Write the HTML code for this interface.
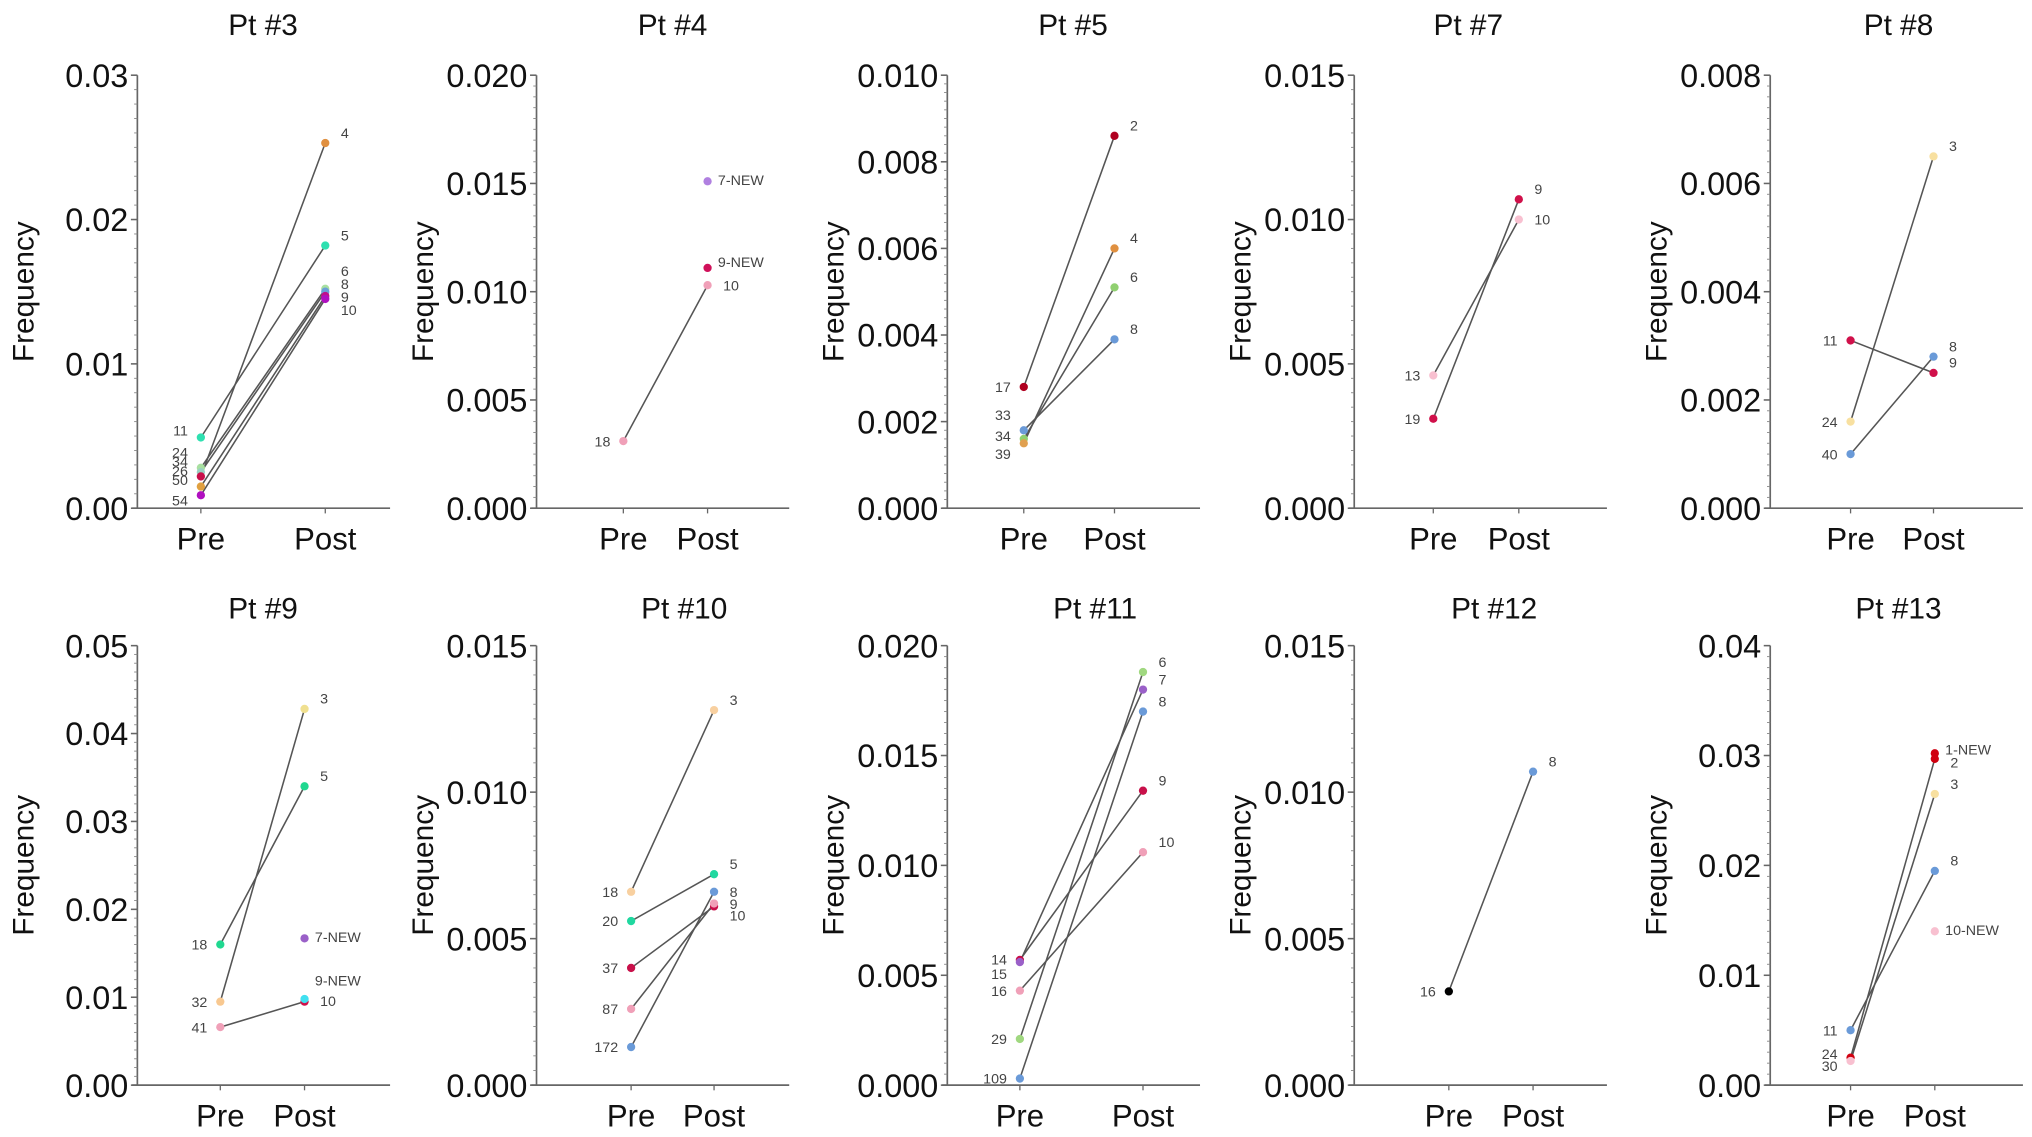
<!DOCTYPE html>
<html><head><meta charset="utf-8"><style>
html,body{margin:0;padding:0;background:#fff;}
svg{display:block;font-family:"Liberation Sans",Arial,sans-serif;}
</style></head><body>
<svg id="chart" width="2032" height="1137" viewBox="0 0 1568 877" preserveAspectRatio="none" xmlns="http://www.w3.org/2000/svg"></svg>
<script>
// panel titles and axes
const titles = ["Pt #3","Pt #4","Pt #5","Pt #7","Pt #8","Pt #9","Pt #10","Pt #11","Pt #12","Pt #13"];
const yMax = [0.03,0.020,0.010,0.015,0.008,0.05,0.015,0.020,0.015,0.04];
const yStep = [0.01,0.005,0.002,0.005,0.002,0.01,0.005,0.005,0.005,0.01];
const yDecimals = [2,3,3,3,3,2,3,3,3,2];
// paired clones: [preLabel, preValue, postLabel, postValue, preColor, postColor]
const p3 = [["11",0.0049,"5",0.0182,"#2ee0b0","#2ee0b0"],["24",0.0028,"6",0.0152,"#a8e0a0","#a8e0a0"],["34",0.0025,"8",0.0150,"#9ad0c0","#6aa0d8"],["26",0.0022,"4",0.0253,"#c8104a","#e09040"],["50",0.0015,"9",0.0147,"#e0a040","#c0108a"],["54",0.0009,"10",0.0145,"#b010c0","#b010c0"]];
const p4 = [["18",0.0031,"10",0.0103,"#f0a0b8","#f0a0b8"]];
const p5 = [["17",0.0028,"2",0.0086,"#b00020","#b00020"],["33",0.0018,"8",0.0039,"#6a9ad8","#6a9ad8"],["34",0.0016,"6",0.0051,"#90d070","#90d070"],["39",0.0015,"4",0.0060,"#e0a050","#e09040"]];
const p7 = [["13",0.0046,"10",0.0100,"#f8c0d0","#f8c0d0"],["19",0.0031,"9",0.0107,"#d0104a","#d0104a"]];
const p8 = [["11",0.0031,"9",0.0025,"#d0104a","#d0104a"],["24",0.0016,"3",0.0065,"#f8e0a0","#f8e0a0"],["40",0.0010,"8",0.0028,"#6a9ad8","#6a9ad8"]];
const p9 = [["18",0.0160,"5",0.0340,"#20d890","#20d890"],["32",0.0095,"3",0.0428,"#f8c890","#f0e090"],["41",0.0066,"10",0.0095,"#f0a0b8","#d0104a"]];
const p10 = [["18",0.0066,"3",0.0128,"#f8d0a0","#f8d0a0"],["20",0.0056,"5",0.0072,"#20d8a0","#20d8a0"],["37",0.0040,"9",0.0061,"#c8104a","#c8104a"],["87",0.0026,"10",0.0062,"#f0a0b8","#f0a0b8"],["172",0.0013,"8",0.0066,"#6a9ad8","#6a9ad8"]];
const p11 = [["14",0.0057,"9",0.0134,"#c8104a","#c8104a"],["15",0.0056,"7",0.0180,"#9a60c8","#9a60c8"],["16",0.0043,"10",0.0106,"#f0a0b8","#f0a0b8"],["29",0.0021,"6",0.0188,"#a0d880","#a0d880"],["109",0.0003,"8",0.0170,"#6a9ad8","#6a9ad8"]];
const p12 = [["16",0.0032,"8",0.0107,"#000000","#6a9ad8"]];
const p13 = [["11",0.0050,"8",0.0195,"#6a9ad8","#6a9ad8"],["24",0.0025,"2",0.0297,"#d00010","#d00010"],["30",0.0022,"3",0.0265,"#f8c0d0","#f8e0a0"]];
// post-only (new) clones: [panelIndex, label, value, color]
const newClones = [[1,"7-NEW",0.0151,"#b080e0"],[1,"9-NEW",0.0111,"#d0105a"],[5,"7-NEW",0.0167,"#9a60c8"],[5,"9-NEW",0.0098,"#40e0f0"],[9,"1-NEW",0.0302,"#d00010"],[9,"10-NEW",0.0140,"#f8c0d0"]];
const pairs = [p3,p4,p5,p7,p8,p9,p10,p11,p12,p13];

// layout (not data)
const axisX = [106,414,731,1045,1366,106,414,731,1045,1366];
const preX = [155,481,790,1106,1428,170,487,787,1118,1428];
const postX = [251,546,860,1172,1492,235,551,882,1183,1493];
const titleX = [203,519,828,1133,1465,203,528,845,1153,1465];
const rowTop = [58,498], rowZero = [392,837];
// manual label baselines to avoid overlaps (layout only)
const labelY = {"0-pre-0":336,"0-pre-1":353,"0-pre-2":360,"0-pre-3":367,"0-pre-4":374,"0-pre-5":390,
 "0-post-1":213,"0-post-2":223,"0-post-4":233,"0-post-5":243,
 "1-post-0":224,"new-1-9-NEW":206,
 "2-pre-1":324,"2-pre-2":340,"2-pre-3":354,
 "6-post-4":692,"6-post-2":701,"6-post-3":710,
 "7-pre-0":744,"7-pre-1":755,
 "9-pre-1":817,"9-pre-2":826,"9-post-1":592,
 "5-post-2":776,"new-5-9-NEW":760,"new-9-1-NEW":582,"3-post-0":173};

const svg = document.getElementById('chart');
const NS = "http://www.w3.org/2000/svg";
function mk(tag, attrs, parent){ const e=document.createElementNS(NS,tag); for(const k in attrs) e.setAttribute(k,attrs[k]); (parent||svg).appendChild(e); return e; }

for(let i=0;i<10;i++){
  const row = i<5?0:1;
  const top=rowTop[row], zero=rowZero[row];
  const ax=axisX[i];
  const y = v => zero - (v/yMax[i])*(zero-top);
  const g = mk('g',{});
  
  
  const t = mk('text',{x:titleX[i],y:row?477:27,'font-size':23,'text-anchor':'middle',fill:'#111'},g);
  t.textContent=titles[i];
  
  
  const ya = mk('line',{x1:ax,y1:top,x2:ax,y2:zero,stroke:'#666','stroke-width':1.3},g);
  
  
  const xa = mk('line',{x1:ax-4,y1:zero,x2:ax+195,y2:zero,stroke:'#666','stroke-width':1.3},g);
  
  
  const nMinor = Math.round(yMax[i]/yStep[i]*10);
  for(let k=0;k<=nMinor;k++){
    const v=yMax[i]*k/nMinor;
    mk('line',{x1:ax-2.5,y1:y(v),x2:ax,y2:y(v),stroke:'#888','stroke-width':0.7},g);
  }
  const nMaj = Math.round(yMax[i]/yStep[i]);
  for(let k=0;k<=nMaj;k++){
    const v=yStep[i]*k;
    mk('line',{x1:ax-5,y1:y(v),x2:ax,y2:y(v),stroke:'#666','stroke-width':1.2},g);
    const tl = mk('text',{x:ax-7,y:y(v)+9,'font-size':25,'text-anchor':'end',fill:'#111'},g);
    tl.textContent=v.toFixed(yDecimals[i]);
    
    
  }
  const fq = mk('text',{x:0,y:0,'font-size':23,'text-anchor':'middle',fill:'#111',transform:`translate(${ax-80},${(top+zero)/2}) rotate(-90)`},g);
  fq.textContent='Frequency';
  
  
  [[preX[i],'Pre'],[postX[i],'Post']].forEach(([x,l])=>{
    mk('line',{x1:x,y1:zero,x2:x,y2:zero+4,stroke:'#666','stroke-width':1},g);
    const xl = mk('text',{x:x,y:zero+32,'font-size':24,'text-anchor':'middle',fill:'#111'},g);
    xl.textContent=l;
    
    
  });
  pairs[i].forEach((p,j)=>{
    const ln = mk('line',{x1:preX[i],y1:y(p[1]),x2:postX[i],y2:y(p[3]),stroke:'#555','stroke-width':1.2},g);
    
    
  });
  pairs[i].forEach((p,j)=>{
    const c1 = mk('circle',{cx:preX[i],cy:y(p[1]),r:3.2,fill:p[4]},g);
    
    
    const c2 = mk('circle',{cx:postX[i],cy:y(p[3]),r:3.2,fill:p[5]},g);
    
    
    const py = labelY[i+'-pre-'+j] !== undefined ? labelY[i+'-pre-'+j] : y(p[1])+4;
    const l1 = mk('text',{x:preX[i]-10,y:py,'font-size':11,'text-anchor':'end',fill:'#444'},g);
    l1.textContent=p[0];
    
    
    const qy = labelY[i+'-post-'+j] !== undefined ? labelY[i+'-post-'+j] : y(p[3])-4;
    const l2 = mk('text',{x:postX[i]+12,y:qy,'font-size':11,fill:'#444'},g);
    l2.textContent=p[2];
    
    
  });
  newClones.filter(n=>n[0]===i).forEach(n=>{
    const c = mk('circle',{cx:postX[i],cy:y(n[2]),r:3.2,fill:n[3]},g);
    
    
    const key='new-'+i+'-'+n[1];
    const ny = labelY[key] !== undefined ? labelY[key] : y(n[2])+3;
    const l = mk('text',{x:postX[i]+8,y:ny,'font-size':11,fill:'#444'},g);
    l.textContent=n[1];
    
    
  });
}
</script>
</body></html>
